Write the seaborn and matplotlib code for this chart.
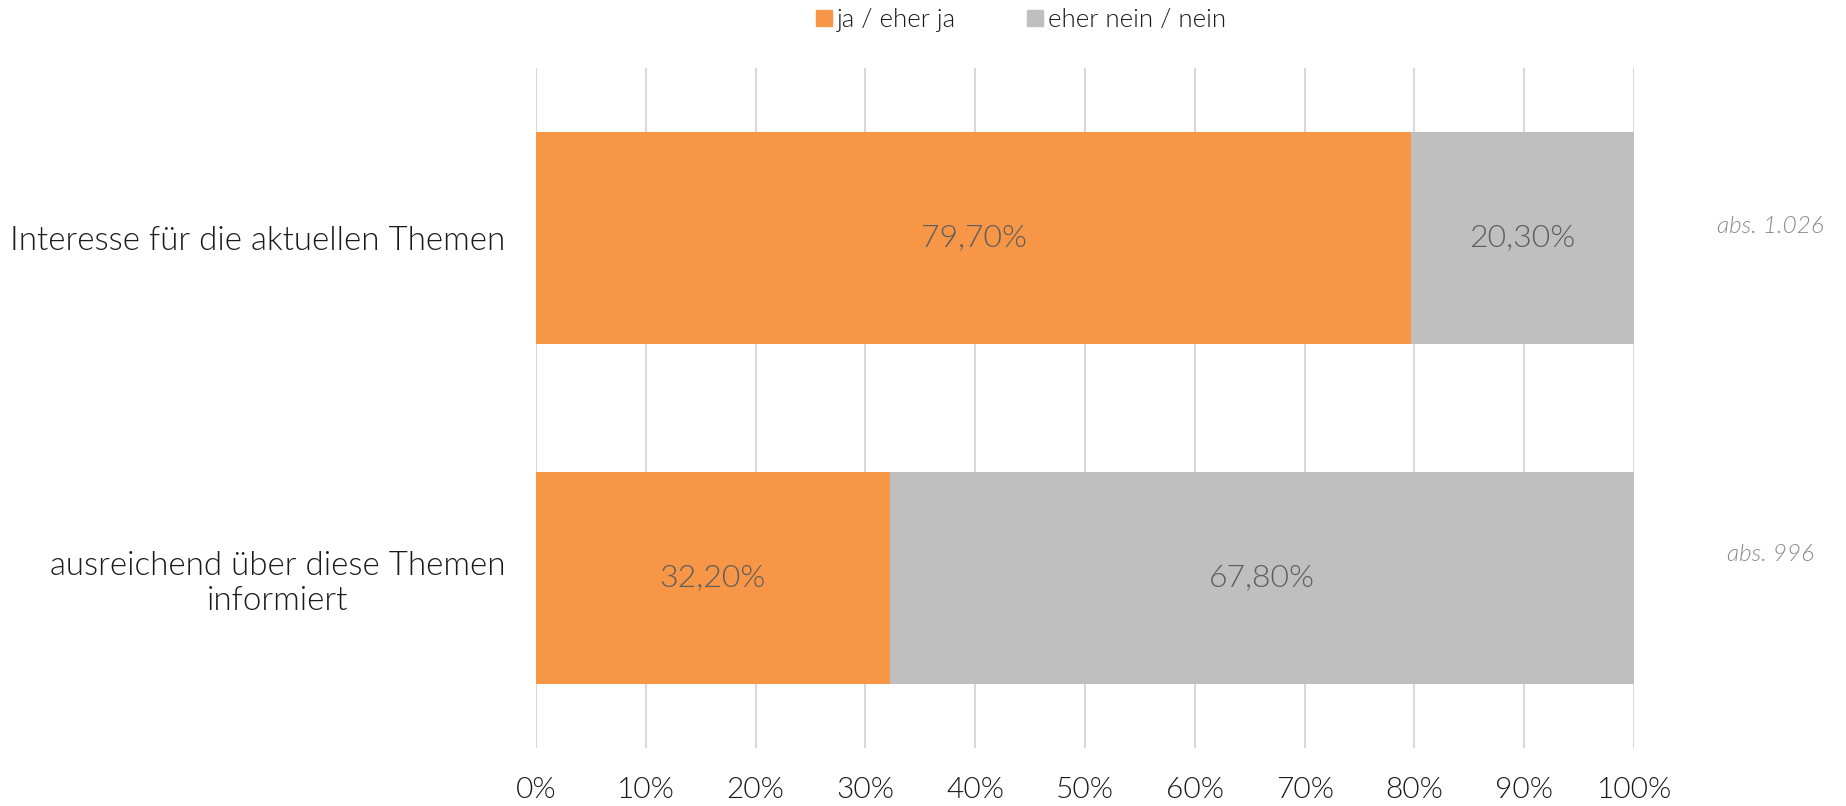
import matplotlib
matplotlib.use("Agg")
import matplotlib.pyplot as plt
import seaborn as sns
import pandas as pd
from matplotlib.lines import Line2D
import matplotlib.transforms as mtransforms

categories = ["Interesse für die aktuellen Themen", "ausreichend über diese Themen\ninformiert"]
ja_values = [79.7, 32.2]
nein_values = [20.3, 67.8]
abs_labels = ["abs. 1.026", "abs. 996"]
series_names = ["ja / eher ja", "eher nein / nein"]
xticks = [0, 10, 20, 30, 40, 50, 60, 70, 80, 90, 100]

ORANGE = "#F79646"
GRAY = "#BFBFBF"
W = 300

sns.set_theme(style="white")
plt.rcParams['font.family'] = ['Lato', 'DejaVu Sans']
plt.rcParams['font.weight'] = W

fig = plt.figure(figsize=(18.46, 8.06), dpi=100)
ax = fig.add_axes([0.2904, 0.0720, 0.5948, 0.8436])

df = pd.DataFrame({"cat": categories, "ja": ja_values, "nein": nein_values})
df["total"] = df["ja"] + df["nein"]

sns.barplot(data=df, x="total", y="cat", color=GRAY, orient="h", width=0.625,
            ax=ax, saturation=1, zorder=2, linewidth=0)
sns.barplot(data=df, x="ja", y="cat", color=ORANGE, orient="h", width=0.625,
            ax=ax, saturation=1, zorder=3, linewidth=0)

for i, (j, n) in enumerate(zip(ja_values, nein_values)):
    ax.text(j / 2, i, f"{j:.2f}%".replace(".", ","), ha="center", va="center",
            fontsize=23, color="#5E5E5E", zorder=5, fontweight=W)
    ax.text(j + n / 2, i, f"{n:.2f}%".replace(".", ","), ha="center", va="center",
            fontsize=23, color="#5E5E5E", zorder=5, fontweight=W)

abs_y = [-0.034, 0.93]
for yv, lab in zip(abs_y, abs_labels):
    ax.text(1.124, yv, lab, transform=mtransforms.blended_transform_factory(ax.transAxes, ax.transData),
            ha="center", va="center", fontsize=17.5, style="italic", color="#8A8A8A",
            fontweight=W)

ax.set_xlim(0, 100)
ax.set_ylim(1.5, -0.5)
ax.set_xticks(xticks)
ax.set_xticklabels([f"{t}%" for t in xticks], fontsize=21.5, color="#1A1A1A", fontweight=W)
ax.tick_params(axis="x", length=0, pad=21)
ax.tick_params(axis="y", length=0, pad=22)
for lab in ax.get_yticklabels():
    lab.set_fontsize(23.8)
    lab.set_color("#1A1A1A")
    lab.set_fontweight(W)
    lab.set_multialignment("center")
ax.set_xlabel("")
ax.set_ylabel("")
ax.grid(axis="x", color="#D9D9D9", linewidth=1.5, zorder=0)
ax.set_axisbelow(True)
for s in ax.spines.values():
    s.set_visible(False)

handles = [Line2D([0], [0], marker="s", linestyle="none", markersize=12,
                  markerfacecolor=c, markeredgecolor=c) for c in (ORANGE, GRAY)]
fig.legend(handles, series_names, loc="center", bbox_to_anchor=(0.5525, 0.975),
           ncol=2, frameon=False, prop={"family": ["Lato", "DejaVu Sans"], "size": 18.5, "weight": W},
           handletextpad=0.1, columnspacing=2.7,
           handlelength=0.8, labelcolor="#1A1A1A")

fig.savefig("out.png", dpi=100, facecolor="white")
